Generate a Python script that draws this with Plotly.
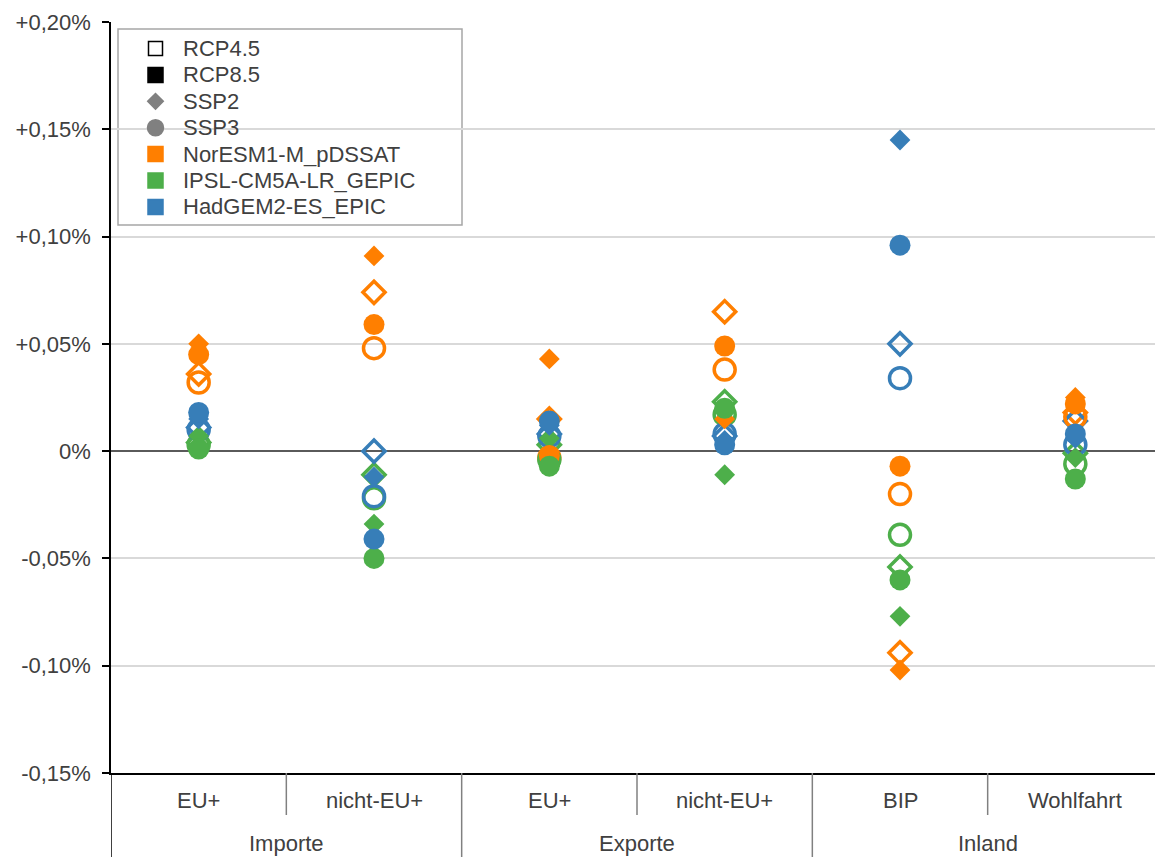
import plotly.graph_objects as go

# ---- data ----
subcats = ["EU+", "nicht-EU+", "EU+", "nicht-EU+", "BIP", "Wohlfahrt"]
group_labels = ["Importe", "Exporte", "Inland"]

tick_vals = [-0.15, -0.10, -0.05, 0.0, 0.05, 0.10, 0.15, 0.20]
tick_text = ["-0,15%", "-0,10%", "-0,05%", "0%", "+0,05%", "+0,10%", "+0,15%", "+0,20%"]

models = ["NorESM1-M_pDSSAT", "IPSL-CM5A-LR_GEPIC", "HadGEM2-ES_EPIC"]
model_colors = ["#ff7f00", "#4daf4a", "#377eb8"]

# values in percent, in the order of subcats
nor_rcp45_ssp2 = [0.036, 0.074, 0.015, 0.065, -0.094, 0.018]
nor_rcp45_ssp3 = [0.032, 0.048, -0.003, 0.038, -0.020, 0.016]
nor_rcp85_ssp2 = [0.050, 0.091, 0.043, 0.015, -0.102, 0.025]
nor_rcp85_ssp3 = [0.045, 0.059, -0.002, 0.049, -0.007, 0.022]

ipsl_rcp45_ssp2 = [0.004, -0.011, 0.003, 0.023, -0.054, -0.001]
ipsl_rcp45_ssp3 = [0.003, -0.022, -0.004, 0.017, -0.039, -0.006]
ipsl_rcp85_ssp2 = [0.007, -0.034, 0.006, -0.011, -0.077, -0.003]
ipsl_rcp85_ssp3 = [0.001, -0.050, -0.007, 0.020, -0.060, -0.013]

had_rcp45_ssp2 = [0.011, 0.000, 0.008, 0.007, 0.050, 0.014]
had_rcp45_ssp3 = [0.010, -0.021, 0.007, 0.008, 0.034, 0.003]
had_rcp85_ssp2 = [0.015, -0.012, 0.012, 0.005, 0.145, 0.006]
had_rcp85_ssp3 = [0.018, -0.041, 0.014, 0.003, 0.096, 0.008]

series = {
    ("RCP4.5", "SSP2"): [nor_rcp45_ssp2, ipsl_rcp45_ssp2, had_rcp45_ssp2],
    ("RCP4.5", "SSP3"): [nor_rcp45_ssp3, ipsl_rcp45_ssp3, had_rcp45_ssp3],
    ("RCP8.5", "SSP2"): [nor_rcp85_ssp2, ipsl_rcp85_ssp2, had_rcp85_ssp2],
    ("RCP8.5", "SSP3"): [nor_rcp85_ssp3, ipsl_rcp85_ssp3, had_rcp85_ssp3],
}

legend_names = ["RCP4.5", "RCP8.5", "SSP2", "SSP3"] + models
legend_symbols = ["square-open", "square", "diamond", "circle", "square", "square", "square"]
legend_colors = ["#000000", "#000000", "#808080", "#808080"] + model_colors
legend_sizes = [14, 15, 12, 16, 15, 15, 15]

TXT = "#404040"
FONT = "Liberation Sans, Arial, sans-serif"
FS = 22

# page geometry (body has an 8px offset)
W, H = 1155, 849
L, T, B = 103, 14, 84
PX0, PY0 = 111, 22          # plot-area left/top in page pixels
PW, PH = 1052, 751          # plot-area size


def px_to_paper_x(px):
    return (px - PX0) / PW


def py_to_paper_y(py):
    return (PY0 + PH - py) / PH


x_pos = [i + 0.5 for i in range(len(subcats))]

fig = go.Figure()

for (rcp, ssp), vals_list in series.items():
    for model, color, vals in zip(models, model_colors, vals_list):
        is_open = rcp == "RCP4.5"
        is_diamond = ssp == "SSP2"
        if is_diamond:
            symbol = "diamond-open" if is_open else "diamond"
            size = 17 if is_open else 16
        else:
            symbol = "circle-open" if is_open else "circle"
            size = 21
        fig.add_trace(go.Scatter(
            x=x_pos, y=vals, mode="markers", showlegend=False,
            name=f"{model} {rcp} {ssp}",
            marker=dict(symbol=symbol, size=size, color=color, opacity=1,
                        line=dict(color=color, width=3.5 if is_open else 0)),
        ))

# ---- manual legend (overlay axes in paper-like [0,1] coordinates) ----
row_py = [48.5 + 26.4 * i for i in range(len(legend_names))]
sym_x = px_to_paper_x(155.5)
txt_x = px_to_paper_x(180.5)
fig.add_trace(go.Scatter(
    x=[sym_x] * len(legend_names), y=[py_to_paper_y(p) for p in row_py],
    xaxis="x2", yaxis="y2", mode="markers", showlegend=False, hoverinfo="skip",
    cliponaxis=False,
    marker=dict(symbol=legend_symbols, size=legend_sizes, color=legend_colors,
                opacity=1, line=dict(color=legend_colors, width=1.5)),
))

shapes = []
# legend box
shapes.append(dict(type="rect", xref="paper", yref="paper", layer="between",
                   x0=px_to_paper_x(118), x1=px_to_paper_x(462),
                   y0=py_to_paper_y(225), y1=py_to_paper_y(29),
                   fillcolor="white", line=dict(color="#a6a6a6", width=1.5)))
# short separators between subcategories
for xb in [1, 3, 5]:
    shapes.append(dict(type="line", xref="x", yref="paper", x0=xb, x1=xb,
                       y0=0, y1=py_to_paper_y(815), line=dict(color="#808080", width=1.5)))
# long separators between groups
for xb in [2, 4]:
    shapes.append(dict(type="line", xref="x", yref="paper", x0=xb, x1=xb,
                       y0=0, y1=py_to_paper_y(857), line=dict(color="#808080", width=1.5)))
# left axis extension
shapes.append(dict(type="line", xref="x", yref="paper", x0=0, x1=0,
                   y0=0, y1=py_to_paper_y(857), line=dict(color="#000000", width=1.5)))

annotations = []
for name, p in zip(legend_names, row_py):
    annotations.append(dict(x=txt_x, y=py_to_paper_y(p), xref="paper", yref="paper",
                            text=name, showarrow=False, xanchor="left", yanchor="middle",
                            font=dict(size=FS, color=TXT, family=FONT)))
for xp, lab in zip(x_pos, subcats):
    annotations.append(dict(x=xp, y=py_to_paper_y(800), xref="x", yref="paper", text=lab,
                            showarrow=False, yanchor="middle",
                            font=dict(size=FS, color=TXT, family=FONT)))
for gi, glab in enumerate(group_labels):
    annotations.append(dict(x=2 * gi + 1, y=py_to_paper_y(843), xref="x", yref="paper",
                            text=glab, showarrow=False, yanchor="middle",
                            font=dict(size=FS, color=TXT, family=FONT)))

fig.update_layout(
    width=W, height=H,
    margin=dict(l=L, r=0, t=T, b=B, autoexpand=False),
    paper_bgcolor="white", plot_bgcolor="white",
    font=dict(family=FONT, color=TXT, size=FS),
    showlegend=False,
    xaxis=dict(range=[0, 6], showgrid=False, zeroline=False, showticklabels=False,
               showline=True, linecolor="#000000", linewidth=1.5, ticks=""),
    yaxis=dict(range=[-0.15, 0.20], tickvals=tick_vals, ticktext=tick_text,
               showgrid=True, gridcolor="#d9d9d9", gridwidth=1.5,
               zeroline=True, zerolinecolor="#5a5a5a", zerolinewidth=2,
               showline=True, linecolor="#000000", linewidth=1.5,
               ticks="outside", ticklen=7, tickcolor="#000000", tickwidth=1.5,
               ticklabelstandoff=7,
               tickfont=dict(size=FS, color=TXT, family=FONT)),
    xaxis2=dict(range=[0, 1], overlaying="x", anchor="y2", visible=False,
                showgrid=False, zeroline=False),
    yaxis2=dict(range=[0, 1], overlaying="y", anchor="x2", visible=False,
                showgrid=False, zeroline=False),
    shapes=shapes,
    annotations=annotations,
)

fig.write_html("out.html")
